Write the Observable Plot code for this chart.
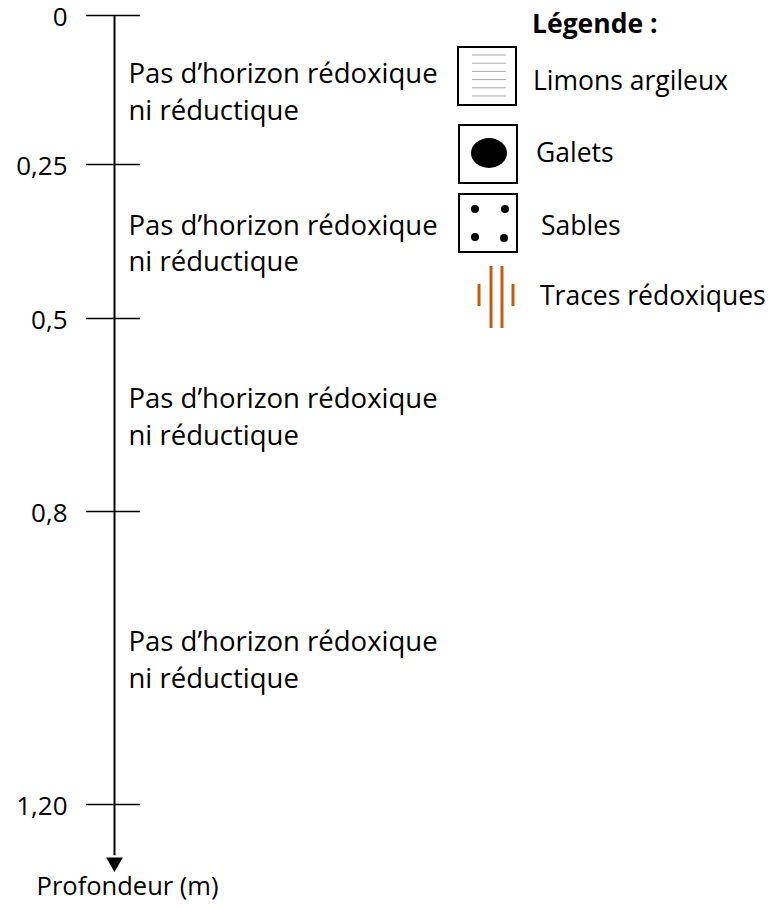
<!DOCTYPE html>
<html><head><meta charset="utf-8">
<script src="https://cdn.jsdelivr.net/npm/d3@7"></script>
<script src="https://cdn.jsdelivr.net/npm/@observablehq/plot@0.6"></script>
<style>
body{margin:0;background:#fff;}
#wrap{position:relative;width:776px;height:908px;font-family:"Open Sans",sans-serif;}
#legend{position:absolute;left:0;top:0;}
</style></head><body><div id="wrap"></div>
<script>
// ---- data ----
const depthTicks = [0, 0.25, 0.5, 0.8, 1.2];
const depthLabels = ["0", "0,25", "0,5", "0,8", "1,20"];
const horizonTop = [0, 0.25, 0.5, 0.8];
const horizonBottom = [0.25, 0.5, 0.8, 1.2];
const horizonText = [
  "Pas d’horizon rédoxique\nni réductique",
  "Pas d’horizon rédoxique\nni réductique",
  "Pas d’horizon rédoxique\nni réductique",
  "Pas d’horizon rédoxique\nni réductique"
];
const legendTitle = "Légende :";
const legendLabels = ["Limons argileux", "Galets", "Sables", "Traces rédoxiques"];
const axisTitle = "Profondeur (m)";

// ---- layout ----
const FONT = '"Open Sans", sans-serif';
const FS = 26;
const HFS = 27.5;
const LFS = 26.5;
const AX = 114;
const horizons = horizonTop.map((t, i) => ({top: t, bottom: horizonBottom[i], text: horizonText[i]}));
// schematic (non-proportional) depth spacing of the drawn log
const schematic = d3.scaleLinear().domain(depthTicks).range([0, 149, 303, 496, 789]);

const chart = Plot.plot({
  width: 776, height: 908, margin: 0,
  x: {domain: [0, 776], range: [0, 776], axis: null},
  y: {transform: schematic, domain: [0, 789], range: [15, 804], axis: null},
  style: {fontFamily: FONT, fontSize: FS + "px", background: "white", color: "black"},
  marks: [
    Plot.ruleX([AX], {y1: 0, y2: 1.27, stroke: "black", strokeWidth: 2}),
    Plot.dot([1.279], {x: AX, y: d => d, symbol: "triangle", rotate: 180, fill: "black", stroke: "none", r: 6.2}),
    Plot.ruleY(depthTicks, {x1: 86, x2: 140, stroke: "black", strokeWidth: 1.5}),
    Plot.text(depthTicks, {x: 67, y: d => d, dy: 2, text: (d, i) => depthLabels[i], textAnchor: "end", fontSize: FS, fill: "black"}),
    Plot.text(horizons, {x: 128, y: d => (d.top + d.bottom) / 2, text: "text", textAnchor: "start", lineHeight: 1.33, fontSize: HFS, fill: "black"}),
    Plot.text([axisTitle], {x: 127, frameAnchor: "bottom", dy: -14, fontSize: 25.5, fill: "black"})
  ]
});
const wrap = document.getElementById("wrap");
wrap.appendChild(chart);

// ---- legend ----
const svg = d3.select(wrap).append("svg").attr("id", "legend")
  .attr("width", 776).attr("height", 360)
  .style("font-family", FONT).style("font-size", LFS + "px");
svg.append("text").attr("x", 532).attr("y", 24).attr("dy", "0.35em")
  .attr("font-weight", "bold").text(legendTitle);

// box 1 : limons argileux
svg.append("rect").attr("x", 458).attr("y", 47).attr("width", 58).attr("height", 58)
  .attr("fill", "white").attr("stroke", "black").attr("stroke-width", 2);
d3.range(6).forEach(k => svg.append("line").attr("x1", 472).attr("x2", 506)
  .attr("y1", 55 + k * 8.2).attr("y2", 55 + k * 8.2).attr("stroke", "#aaa").attr("stroke-width", 1));
// box 2 : galets
svg.append("rect").attr("x", 459).attr("y", 125).attr("width", 58).attr("height", 58)
  .attr("fill", "white").attr("stroke", "black").attr("stroke-width", 2);
svg.append("ellipse").attr("cx", 489).attr("cy", 153).attr("rx", 18).attr("ry", 15).attr("fill", "black");
// box 3 : sables
svg.append("rect").attr("x", 459).attr("y", 194).attr("width", 58).attr("height", 58)
  .attr("fill", "white").attr("stroke", "black").attr("stroke-width", 2);
[[475, 209], [505, 209], [475, 237], [504, 238]].forEach(([cx, cy]) =>
  svg.append("circle").attr("cx", cx).attr("cy", cy).attr("r", 4).attr("fill", "black"));
// traces
[[479, 284, 306], [491, 266, 328], [502, 266, 328], [513, 284, 306]].forEach(([x, y1, y2]) =>
  svg.append("line").attr("x1", x).attr("x2", x).attr("y1", y1).attr("y2", y2)
    .attr("stroke", "#c55a11").attr("stroke-width", 3));

const labelPos = [[533, 81], [536, 153], [541, 226], [540, 296]];
legendLabels.forEach((t, i) => svg.append("text").attr("x", labelPos[i][0]).attr("y", labelPos[i][1])
  .attr("dy", "0.35em").text(t));
</script>
</body></html>
